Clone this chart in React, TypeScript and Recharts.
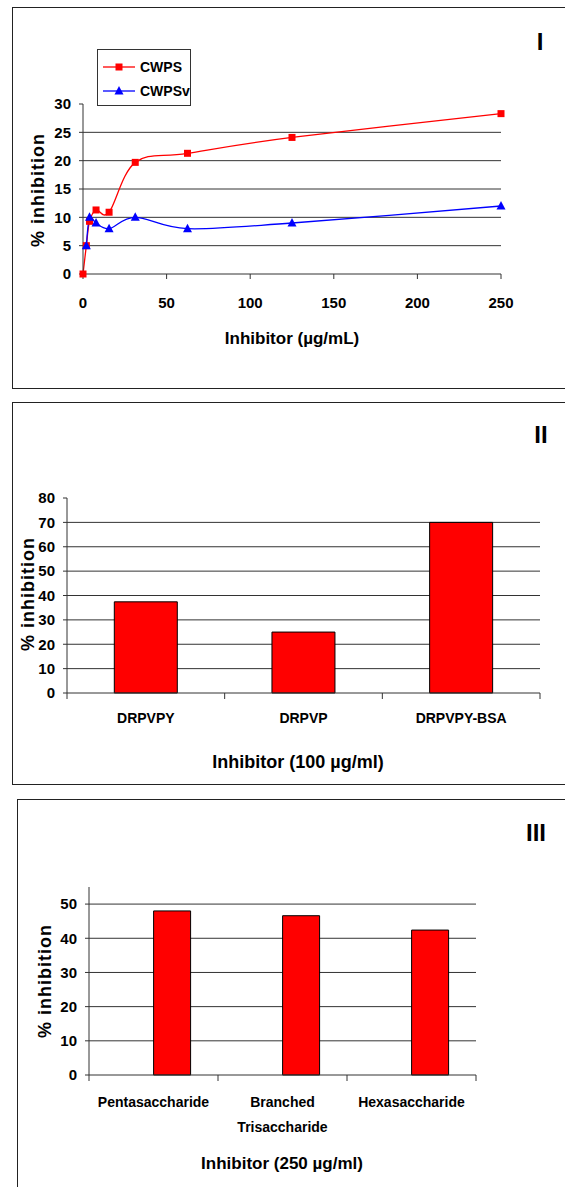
import React from 'react';
import { LineChart, Line, BarChart, Bar, XAxis, YAxis, CartesianGrid, Legend } from 'recharts';

// Panel I: inhibition vs concentration
const doses = [0, 2, 3.9, 7.8, 15.6, 31.25, 62.5, 125, 250];
const cwps = [0, 5, 9.3, 11.3, 10.9, 19.7, 21.3, 24.1, 28.3];
const cwpsv = [null, 5, 10, 9, 8, 10, 8, 9, 12];
const doseTicks = [0, 50, 100, 150, 200, 250];
const pctTicksI = [0, 5, 10, 15, 20, 25, 30];

// Panel II: peptides at 100 ug/ml
const peptides = ['DRPVPY', 'DRPVP', 'DRPVPY-BSA'];
const peptideInhibition = [37.4, 25, 70];
const pctTicksII = [0, 10, 20, 30, 40, 50, 60, 70, 80];

// Panel III: oligosaccharides at 250 ug/ml (first series slot is empty in the original)
const oligos = ['Pentasaccharide', 'Branched Trisaccharide', 'Hexasaccharide'];
const oligoEmpty = [null, null, null];
const oligoInhibition = [48, 46.6, 42.4];
const pctTicksIII = [0, 10, 20, 30, 40, 50];

const lineData = doses.map((d, i) => ({ dose: d, cwps: cwps[i], cwpsv: cwpsv[i] }));
const peptideData = peptides.map((name, i) => ({ name, value: peptideInhibition[i] }));
const oligoData = oligos.map((name, i) => ({ name, empty: oligoEmpty[i], value: oligoInhibition[i] }));

const FONT = '"Liberation Sans", Arial, sans-serif';
const GRID = '#333';
const BORDER = '#8a8a8a';
const tickStyle = { fontFamily: FONT, fontWeight: 700, fontSize: 15, fill: '#000' };

// spreadsheet-style smoothed line (catmull-rom bezier through the points)
function smoothCurve(context: any) {
  let pts: number[][] = [];
  return {
    areaStart() {},
    areaEnd() {},
    lineStart() {
      pts = [];
    },
    point(x: number, y: number) {
      pts.push([+x, +y]);
    },
    lineEnd() {
      if (!pts.length) return;
      context.moveTo(pts[0][0], pts[0][1]);
      for (let i = 0; i < pts.length - 1; i++) {
        const p0 = pts[i - 1] || pts[i];
        const p1 = pts[i];
        const p2 = pts[i + 1];
        const p3 = pts[i + 2] || p2;
        context.bezierCurveTo(
          p1[0] + (p2[0] - p0[0]) / 6,
          p1[1] + (p2[1] - p0[1]) / 6,
          p2[0] - (p3[0] - p1[0]) / 6,
          p2[1] - (p3[1] - p1[1]) / 6,
          p2[0],
          p2[1]
        );
      }
    },
  };
}

function Caption({ x, y, size, rotate, children }: any) {
  return (
    <div
      style={{
        position: 'absolute',
        left: x,
        top: y,
        transform: `translate(-50%, -50%)${rotate ? ' rotate(-90deg)' : ''}`,
        fontFamily: FONT,
        fontWeight: 700,
        fontSize: size,
        lineHeight: 1,
        whiteSpace: 'nowrap',
        letterSpacing: rotate ? 1 : 0,
      }}
    >
      {children}
    </div>
  );
}

function Frame({ left, top, height }: any) {
  return (
    <div
      style={{
        position: 'absolute',
        left,
        top,
        width: 600,
        height,
        border: '1.5px solid #222',
        boxSizing: 'border-box',
      }}
    />
  );
}

function SquareDot(props: any) {
  const { cx, cy, key } = props;
  if (cx == null || cy == null) return <g key={key} />;
  return <rect key={key} x={cx - 3.5} y={cy - 3.5} width={7} height={7} fill="#FF0000" />;
}

function TriangleDot(props: any) {
  const { cx, cy, key } = props;
  if (cx == null || cy == null) return <g key={key} />;
  return <polygon key={key} points={`${cx},${cy - 5} ${cx + 4.5},${cy + 3.5} ${cx - 4.5},${cy + 3.5}`} fill="#0000FF" />;
}

function LegendBox() {
  const items = [
    { label: 'CWPS', color: '#FF0000', shape: 'square' },
    { label: 'CWPSv', color: '#0000FF', shape: 'triangle' },
  ];
  return (
    <div
      style={{
        width: 94,
        height: 57,
        border: '1.5px solid #333',
        background: '#fff',
        boxSizing: 'border-box',
        paddingTop: 5,
        fontFamily: FONT,
        fontWeight: 700,
        fontSize: 14,
      }}
    >
      {items.map((it) => (
        <div key={it.label} style={{ display: 'flex', alignItems: 'center', height: 24, marginLeft: 5 }}>
          <svg width={34} height={12}>
            <line x1={0} y1={6} x2={32} y2={6} stroke={it.color} strokeWidth={1.3} />
            {it.shape === 'square' ? (
              <rect x={12.5} y={2.5} width={7} height={7} fill={it.color} />
            ) : (
              <polygon points="16,1 20.5,9.5 11.5,9.5" fill={it.color} />
            )}
          </svg>
          <span style={{ marginLeft: 3 }}>{it.label}</span>
        </div>
      ))}
    </div>
  );
}

function CategoryTick(props: any) {
  const { x, y, payload, index, band, count, fontSize, gap } = props;
  const words = String(payload.value).split(' ');
  const left = x - band / 2;
  return (
    <g>
      <line x1={left} y1={y - 6} x2={left} y2={y} stroke={GRID} />
      {index === count - 1 && <line x1={x + band / 2} y1={y - 6} x2={x + band / 2} y2={y} stroke={GRID} />}
      <text x={x} y={y + gap} textAnchor="middle" fontFamily={FONT} fontWeight={700} fontSize={fontSize} fill="#000">
        {words.map((w, i) => (
          <tspan key={i} x={x} dy={i === 0 ? '0.71em' : 25}>
            {w}
          </tspan>
        ))}
      </text>
    </g>
  );
}

// layout
const W = 565;
const M1 = { top: 104, right: 64, bottom: 86, left: 38 };
const M2 = { top: 103, right: 25, bottom: 67, left: 22 };
const M3 = { top: 92, right: 89, bottom: 82, left: 44 };
const Y_W = 45;
const X_H = 30;
const band2 = (W - M2.left - M2.right - Y_W) / peptides.length;
const band3 = (W - M3.left - M3.right - Y_W) / oligos.length;

export default function App() {
  return (
    <div style={{ position: 'absolute', left: 0, top: 0, width: W, height: 1187, overflow: 'hidden', background: '#fff' }}>
      <Frame left={12} top={7} height={382} />
      <Frame left={12} top={402} height={383} />
      <Frame left={17} top={799} height={420} />

      <div style={{ position: 'absolute', left: 0, top: 0 }}>
        <LineChart width={W} height={390} data={lineData} margin={M1}>
          <CartesianGrid horizontal vertical={false} stroke={GRID} horizontalValues={[5, 10, 15, 20, 25]} />
          <XAxis
            dataKey="dose"
            type="number"
            domain={[0, 250]}
            ticks={doseTicks}
            height={X_H}
            tickSize={5}
            tickMargin={18}
            stroke={GRID}
            tick={tickStyle}
          />
          <XAxis xAxisId="top" dataKey="dose" type="number" domain={[0, 250]} orientation="top" height={0} tick={false} tickLine={false} axisLine={{ stroke: BORDER }} />
          <YAxis domain={[0, 30]} ticks={pctTicksI} width={Y_W} tickSize={4} tickMargin={8} stroke={GRID} tick={tickStyle} />
          <YAxis yAxisId="right" orientation="right" domain={[0, 30]} width={0} tick={false} tickLine={false} axisLine={{ stroke: BORDER }} />
          <Legend
            layout="vertical"
            align="center"
            verticalAlign="middle"
            content={() => <LegendBox />}
            wrapperStyle={{ left: 97, top: 49, width: 94, height: 57 }}
          />
          <Line type={smoothCurve as any} dataKey="cwps" name="CWPS" stroke="#FF0000" strokeWidth={1.3} dot={SquareDot} isAnimationActive={false} />
          <Line type={smoothCurve as any} dataKey="cwpsv" name="CWPSv" stroke="#0000FF" strokeWidth={1.3} dot={TriangleDot} isAnimationActive={false} />
        </LineChart>
      </div>
      <Caption x={38} y={190} size={18} rotate>% inhibition</Caption>
      <Caption x={292} y={338} size={17}>Inhibitor (µg/mL)</Caption>
      <Caption x={540} y={42} size={24}>I</Caption>

      <div style={{ position: 'absolute', left: 0, top: 395 }}>
        <BarChart width={W} height={395} data={peptideData} margin={M2} barCategoryGap="30%">
          <CartesianGrid horizontal vertical={false} stroke={GRID} horizontalValues={[10, 20, 30, 40, 50, 60, 70]} />
          <XAxis
            dataKey="name"
            height={X_H}
            tickSize={6}
            tickMargin={0}
            tickLine={false}
            stroke={GRID}
            interval={0}
            tick={(p: any) => <CategoryTick {...p} band={band2} count={peptides.length} fontSize={14} gap={14} />}
          />
          <XAxis xAxisId="top" dataKey="name" orientation="top" height={0} tick={false} tickLine={false} axisLine={{ stroke: BORDER }} />
          <YAxis domain={[0, 80]} ticks={pctTicksII} width={Y_W} tickSize={4} tickMargin={8} stroke={GRID} tick={tickStyle} />
          <YAxis yAxisId="right" orientation="right" domain={[0, 80]} width={0} tick={false} tickLine={false} axisLine={{ stroke: BORDER }} />
          <Bar dataKey="value" fill="#FF0000" stroke="#000" strokeWidth={1} isAnimationActive={false} />
        </BarChart>
      </div>
      <Caption x={28} y={594} size={18} rotate>% inhibition</Caption>
      <Caption x={298} y={762} size={18}>Inhibitor (100 µg/ml)</Caption>
      <Caption x={541} y={435} size={24}>II</Caption>

      <div style={{ position: 'absolute', left: 0, top: 795 }}>
        <BarChart width={W} height={392} data={oligoData} margin={M3} barCategoryGap="21.4%" barGap={0}>
          <CartesianGrid horizontal vertical={false} stroke={GRID} horizontalValues={[10, 20, 30, 40, 50]} />
          <XAxis
            dataKey="name"
            height={X_H}
            tickSize={6}
            tickMargin={0}
            tickLine={false}
            stroke={GRID}
            interval={0}
            tick={(p: any) => <CategoryTick {...p} band={band3} count={oligos.length} fontSize={14} gap={16} />}
          />
          <XAxis xAxisId="top" dataKey="name" orientation="top" height={0} tick={false} tickLine={false} axisLine={{ stroke: BORDER }} />
          <YAxis domain={[0, 55]} ticks={pctTicksIII} width={Y_W} tickSize={4} tickMargin={8} stroke={GRID} tick={tickStyle} />
          <YAxis yAxisId="right" orientation="right" domain={[0, 55]} width={0} tick={false} tickLine={false} axisLine={{ stroke: BORDER }} />
          <Bar dataKey="empty" fill="#FF0000" isAnimationActive={false} />
          <Bar dataKey="value" fill="#FF0000" stroke="#000" strokeWidth={1} isAnimationActive={false} />
        </BarChart>
      </div>
      <Caption x={45} y={981} size={18} rotate>% inhibition</Caption>
      <Caption x={282} y={1163} size={17}>Inhibitor (250 µg/ml)</Caption>
      <Caption x={536} y={833} size={24}>III</Caption>
    </div>
  );
}
